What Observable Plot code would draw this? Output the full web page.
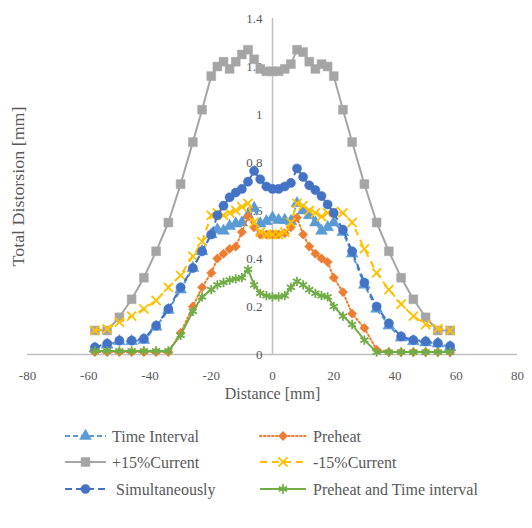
<!DOCTYPE html>
<html><head><meta charset="utf-8">
<script src="https://cdn.jsdelivr.net/npm/d3@7"></script>
<script src="https://cdn.jsdelivr.net/npm/@observablehq/plot@0.6"></script>
<style>
body{margin:0;background:#fff;}
#chart{width:532px;height:528px;font-family:"Liberation Serif",serif;}
#chart svg{display:block;}
</style>
</head><body><div id="chart"></div>
<script>
// ---- data ----
const distance = [-58,-54,-50,-46,-42,-38,-34,-30,-26,-23,-20,-18,-16,-14,-12,-10,-8,-6,-4,-2,0,2,4,6,8,10,12,14,16,18,20,23,26,30,34,38,42,46,50,54,58];
const timeInterval = [0.025,0.04,0.055,0.055,0.06,0.115,0.185,0.27,0.36,0.43,0.5,0.52,0.515,0.535,0.545,0.55,0.58,0.61,0.545,0.555,0.57,0.56,0.56,0.555,0.63,0.6,0.58,0.55,0.515,0.53,0.55,0.51,0.42,0.29,0.19,0.12,0.07,0.055,0.05,0.045,0.03];
const preheat = [0.01,0.01,0.01,0.01,0.01,0.01,0.01,0.09,0.2,0.28,0.34,0.4,0.42,0.44,0.45,0.51,0.575,0.53,0.5,0.5,0.5,0.5,0.505,0.53,0.57,0.5,0.45,0.42,0.4,0.385,0.32,0.26,0.17,0.11,0.02,0.01,0.01,0.01,0.01,0.01,0.01];
const plus15Current = [0.1,0.1,0.155,0.23,0.32,0.43,0.55,0.71,0.885,1.02,1.16,1.2,1.22,1.19,1.22,1.25,1.27,1.23,1.19,1.18,1.18,1.18,1.19,1.21,1.27,1.26,1.22,1.19,1.21,1.2,1.16,1.02,0.885,0.71,0.55,0.43,0.32,0.23,0.155,0.1,0.1];
const minus15Current = [0.1,0.107,0.135,0.16,0.19,0.225,0.28,0.33,0.41,0.47,0.58,0.59,0.58,0.59,0.6,0.615,0.63,0.55,0.51,0.5,0.5,0.5,0.51,0.55,0.63,0.62,0.6,0.59,0.575,0.59,0.595,0.59,0.55,0.44,0.34,0.27,0.21,0.16,0.125,0.108,0.1];
const simultaneously = [0.03,0.045,0.058,0.058,0.066,0.12,0.19,0.28,0.36,0.43,0.5,0.58,0.62,0.655,0.675,0.69,0.72,0.765,0.73,0.7,0.69,0.69,0.7,0.715,0.775,0.74,0.705,0.685,0.66,0.625,0.59,0.52,0.43,0.3,0.2,0.13,0.075,0.06,0.055,0.048,0.035];
const preheatTimeInterval = [0.015,0.015,0.015,0.015,0.015,0.015,0.015,0.08,0.18,0.24,0.27,0.29,0.3,0.31,0.315,0.32,0.355,0.29,0.255,0.245,0.24,0.24,0.245,0.28,0.305,0.29,0.27,0.255,0.245,0.24,0.2,0.16,0.125,0.06,0.01,0.01,0.01,0.01,0.01,0.01,0.01];
const seriesNames = ["Time Interval","Preheat","+15%Current","-15%Current","Simultaneously","Preheat and Time interval"];
const xTicks = [-80,-60,-40,-20,0,20,40,60,80];
const yTicks = [0,0.2,0.4,0.6,0.8,1,1.2,1.4];

// ---- styles ----
const seriesValues = [timeInterval, preheat, plus15Current, minus15Current, simultaneously, preheatTimeInterval];
const colors = ["#5B9BD5","#ED7D31","#A5A5A5","#FFC000","#4472C4","#70AD47"];
const dashes = ["5,3","1.5,2.5",null,"7,5","7,4",null];
const symbols = ["triangle","diamond2","square","times","circle","asterisk"];
const d3symbols = [d3.symbolTriangle,d3.symbolDiamond2,d3.symbolSquare,d3.symbolTimes,d3.symbolCircle,d3.symbolAsterisk];
const radii = [4.4,4.2,5,4.2,4.6,4.4];
const strokeOnly = [false,false,false,true,false,true];
const textColor = "#595959";
const axisColor = "#BFBFBF";

const series = seriesNames.map((name,k)=>({
  name, color: colors[k], dash: dashes[k], symbol: symbols[k], r: radii[k], strokeOnly: strokeOnly[k],
  data: distance.map((x,i)=>({x, y: seriesValues[k][i], name}))
}));

const marks = [
  Plot.ruleY([0], {stroke: axisColor, strokeWidth: 1.5}),
  Plot.ruleX([0], {stroke: axisColor, strokeWidth: 1.5}),
  Plot.axisX(xTicks, {tickSize: 0, tickPadding: 16, fontSize: 13, tickFormat: d => String(d), label: null, fill: textColor}),
  Plot.text(yTicks, {x: 0, y: d => d, text: d => String(d), dx: -10, textAnchor: "end", fontSize: 13, fill: textColor}),
  Plot.text(["Distance [mm]"], {frameAnchor: "bottom", textAnchor: "middle", lineAnchor: "middle", dy: 39, fontSize: 16, fill: textColor}),
  Plot.text(["Total Distorsion [mm]"], {frameAnchor: "left", textAnchor: "middle", lineAnchor: "middle", rotate: -90, dx: -9, fontSize: 17, fill: textColor, className: "ytitle"})
];
for (const s of series) {
  marks.push(Plot.line(s.data, {x: "x", y: "y", stroke: s.color, strokeWidth: 2, strokeDasharray: s.dash, strokeLinecap: s.dash && s.dash.startsWith("1.5") ? "round" : "butt"}));
  marks.push(Plot.dot(s.data, {x: "x", y: "y", symbol: s.symbol, r: s.r,
    fill: s.strokeOnly ? "none" : s.color, stroke: s.color, strokeWidth: s.strokeOnly ? 1.8 : 0.5}));
}

const chart = Plot.plot({
  width: 532, height: 410,
  marginTop: 18, marginBottom: 56, marginLeft: 27, marginRight: 15,
  x: {domain: [-80, 80], axis: null},
  y: {domain: [0, 1.4], axis: null},
  style: {fontFamily: "'Liberation Serif', serif", background: "#fff", color: textColor, overflow: "visible"},
  marks
});
const root = document.getElementById("chart");
root.appendChild(chart);
// stretch the vertical title to the reference's length
d3.select(chart).selectAll("g.ytitle text").attr("textLength", 160).attr("lengthAdjust", "spacingAndGlyphs");

// ---- legend ----
const lg = d3.select(root).append("svg").attr("width", 532).attr("height", 118)
  .style("font-family", "'Liberation Serif', serif");
const rowY = [26, 52, 79];
const colX = [{l1: 65, l2: 106, t: 112}, {l1: 260, l2: 306, t: 313}];
series.forEach((s,k)=>{
  const c = colX[k % 2], y = rowY[Math.floor(k / 2)];
  const g = lg.append("g");
  g.append("line").attr("x1", c.l1).attr("x2", c.l2).attr("y1", y).attr("y2", y)
    .attr("stroke", s.color).attr("stroke-width", 2)
    .attr("stroke-dasharray", s.dash).attr("stroke-linecap", s.dash && s.dash.startsWith("1.5") ? "round" : "butt");
  g.append("path").attr("transform", `translate(${(c.l1 + c.l2) / 2},${y})`)
    .attr("d", d3.symbol(d3symbols[k], Math.PI * s.r * s.r)())
    .attr("fill", s.strokeOnly ? "none" : s.color).attr("stroke", s.color)
    .attr("stroke-width", s.strokeOnly ? 1.8 : 0.5);
  g.append("text").attr("x", c.t + (k === 4 ? 4 : 0)).attr("y", y).attr("dy", "0.35em")
    .attr("font-size", 16).attr("fill", textColor).text(s.name);
});
</script>
</body></html>
